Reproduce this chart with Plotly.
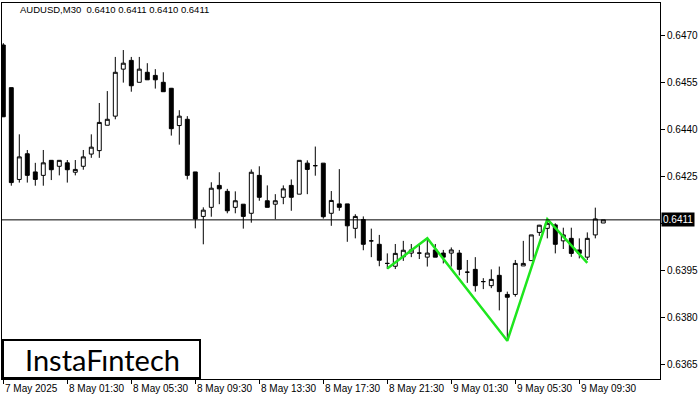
import plotly.graph_objects as go

# ---- data (AUDUSD M30) ----
opens = [0.64668, 0.64532, 0.64239, 0.64321, 0.64263, 0.64252, 0.64300, 0.64281, 0.64292, 0.64262,
         0.64281, 0.64320, 0.64331, 0.64412, 0.64441, 0.64591, 0.64619, 0.64549, 0.64581, 0.64571,
         0.64549, 0.64530, 0.64411, 0.64431, 0.64263, 0.64121, 0.64150, 0.64220, 0.64201, 0.64150,
         0.64160, 0.64131, 0.64252, 0.64171, 0.64160, 0.64182, 0.64220, 0.64192, 0.64291, 0.64283,
         0.64291, 0.64131, 0.64161, 0.64161, 0.64083, 0.64111, 0.64043, 0.64032, 0.63971, 0.63962,
         0.63992, 0.64004, 0.64004, 0.63991, 0.64014, 0.64004, 0.64004, 0.64004, 0.63943, 0.63952,
         0.63913, 0.63900, 0.63933, 0.63872, 0.63872, 0.63963, 0.63980, 0.64070, 0.64083, 0.64094,
         0.64043, 0.64051, 0.64014, 0.63991, 0.64062, 0.64100]
highs = [0.64674, 0.64532, 0.64383, 0.64333, 0.64292, 0.64333, 0.64301, 0.64301, 0.64301, 0.64301,
         0.64333, 0.64383, 0.64483, 0.64521, 0.64630, 0.64652, 0.64630, 0.64630, 0.64610, 0.64591,
         0.64581, 0.64531, 0.64460, 0.64441, 0.64263, 0.64150, 0.64230, 0.64262, 0.64209, 0.64201,
         0.64160, 0.64271, 0.64281, 0.64220, 0.64192, 0.64220, 0.64239, 0.64300, 0.64300, 0.64344,
         0.64291, 0.64202, 0.64272, 0.64161, 0.64128, 0.64121, 0.64082, 0.64062, 0.64003, 0.64033,
         0.64043, 0.64033, 0.64033, 0.64050, 0.64033, 0.64014, 0.64022, 0.64014, 0.63982, 0.63991,
         0.63924, 0.63952, 0.63961, 0.63881, 0.63982, 0.64043, 0.64062, 0.64094, 0.64113, 0.64099,
         0.64085, 0.64085, 0.64051, 0.64070, 0.64149, 0.64110]
lows = [0.64438, 0.64219, 0.64229, 0.64229, 0.64219, 0.64219, 0.64237, 0.64252, 0.64229, 0.64252,
        0.64270, 0.64308, 0.64308, 0.64412, 0.64431, 0.64548, 0.64519, 0.64549, 0.64557, 0.64529,
        0.64519, 0.64379, 0.64350, 0.64239, 0.64083, 0.64032, 0.64120, 0.64160, 0.64131, 0.64131,
        0.64082, 0.64101, 0.64171, 0.64150, 0.64112, 0.64160, 0.64139, 0.64192, 0.64192, 0.64251,
        0.64114, 0.64091, 0.64139, 0.64040, 0.64051, 0.64013, 0.63991, 0.63962, 0.63953, 0.63953,
        0.63979, 0.63991, 0.63985, 0.63961, 0.63991, 0.63971, 0.63961, 0.63933, 0.63909, 0.63881,
        0.63889, 0.63892, 0.63821, 0.63727, 0.63865, 0.63963, 0.63980, 0.64059, 0.64051, 0.64003,
        0.64017, 0.63992, 0.63987, 0.63982, 0.64051, 0.64100]
closes = [0.64439, 0.64229, 0.64311, 0.64252, 0.64239, 0.64292, 0.64270, 0.64300, 0.64270, 0.64271,
          0.64311, 0.64342, 0.64421, 0.64431, 0.64581, 0.64610, 0.64538, 0.64591, 0.64557, 0.64557,
          0.64519, 0.64401, 0.64441, 0.64252, 0.64113, 0.64141, 0.64211, 0.64209, 0.64139, 0.64171,
          0.64121, 0.64262, 0.64182, 0.64150, 0.64171, 0.64209, 0.64182, 0.64300, 0.64271, 0.64283,
          0.64120, 0.64172, 0.64150, 0.64091, 0.64121, 0.64032, 0.64043, 0.63981, 0.63971, 0.64003,
          0.64013, 0.64014, 0.64004, 0.64004, 0.63991, 0.63991, 0.64014, 0.63952, 0.63943, 0.63900,
          0.63913, 0.63920, 0.63881, 0.63863, 0.63971, 0.63971, 0.64062, 0.64093, 0.64099, 0.64032,
          0.64062, 0.64003, 0.64003, 0.64051, 0.64113, 0.64110]

tick_idx = [0, 8, 16, 24, 32, 40, 48, 56, 64, 72]
tick_labels = ["7 May 2025", "8 May 01:30", "8 May 05:30", "8 May 09:30", "8 May 13:30",
               "8 May 17:30", "8 May 21:30", "9 May 01:30", "9 May 05:30", "9 May 09:30"]
price_ticks = [0.6365, 0.6380, 0.6395, 0.6410, 0.6425, 0.6440, 0.6455, 0.6470]

pattern_idx = [48, 53, 63, 68, 73]
pattern_px = [0.63955, 0.64051, 0.63724, 0.64112, 0.63973]

last_price = 0.6411
title_text = "AUDUSD,M30  0.6410 0.6411 0.6410 0.6411"

# ---- figure ----
x = list(range(len(opens)))
FONT = "Liberation Sans, Arial, sans-serif"

fig = go.Figure()
fig.add_trace(go.Candlestick(
    x=x, open=opens, high=highs, low=lows, close=closes,
    increasing=dict(line=dict(color="black", width=1), fillcolor="white"),
    decreasing=dict(line=dict(color="black", width=1), fillcolor="black"),
    whiskerwidth=0, hoverinfo="skip", showlegend=False,
))
fig.add_trace(go.Scatter(
    x=pattern_idx, y=pattern_px, mode="lines",
    line=dict(color="#1ee61e", width=2.5), hoverinfo="skip", showlegend=False,
))

fig.add_shape(type="line", xref="paper", x0=0, x1=1, yref="y", y0=last_price, y1=last_price,
              line=dict(color="black", width=1))

# logo box
W, H, L, T = 658, 376, 2, 3
def px_x(p): return (p - L) / W
def px_y(p): return (T + H - p) / H

fig.add_shape(type="rect", xref="paper", yref="paper",
              x0=px_x(3), x1=px_x(200), y0=px_y(378), y1=px_y(340),
              fillcolor="white", line=dict(color="black", width=2), layer="above")
fig.add_annotation(xref="paper", yref="paper", x=px_x(102), y=px_y(359), text="InstaFıntech",
                   showarrow=False, font=dict(family="Lato, sans-serif", size=29, color="black"),
                   xanchor="center", yanchor="middle")

fig.add_annotation(xref="paper", yref="paper", x=px_x(18), y=px_y(10), text=title_text,
                   showarrow=False, font=dict(family=FONT, size=9.5, color="black"),
                   xanchor="left", yanchor="middle")

for i, lab in zip(tick_idx, tick_labels):
    fig.add_annotation(xref="x", yref="paper", x=i, y=px_y(388), text=lab, showarrow=False,
                       font=dict(family=FONT, size=10, color="black"),
                       xanchor="left", yanchor="middle", xshift=0)

fig.add_annotation(xref="paper", yref="y", x=1, y=last_price, text="0.6411", showarrow=False,
                   font=dict(family=FONT, size=10, color="white"), bgcolor="black",
                   xanchor="left", yanchor="middle", xshift=1, borderpad=1)

x0 = (2 - 3.3) / 8
x1 = (660 - 3.3) / 8
ppx = 0.0015 / 47
fig.update_layout(
    width=700, height=400,
    margin=dict(l=2, r=40, t=3, b=21, autoexpand=False),
    paper_bgcolor="white", plot_bgcolor="white",
    showlegend=False,
    xaxis=dict(range=[x0, x1], rangeslider=dict(visible=False), showgrid=False, zeroline=False,
               showline=True, linecolor="black", linewidth=1, mirror=True,
               tickmode="array", tickvals=tick_idx, ticktext=[""] * len(tick_idx),
               ticks="outside", ticklen=4, tickcolor="black", tickwidth=1),
    yaxis=dict(range=[0.6470 - 344 * ppx, 0.6470 + 32 * ppx], side="right", showgrid=False,
               zeroline=False, showline=True, linecolor="black", linewidth=1, mirror=True,
               tickmode="array", tickvals=price_ticks,
               ticktext=["" if abs(v - 0.6410) < 1e-9 else f"{v:.4f}" for v in price_ticks],
               ticks="outside", ticklen=4, tickcolor="black", tickwidth=1,
               tickfont=dict(family=FONT, size=10, color="black")),
)

fig.write_html("out.html", config={"displayModeBar": False},
               post_script="document.body.style.margin='0';document.body.style.padding='0';")
